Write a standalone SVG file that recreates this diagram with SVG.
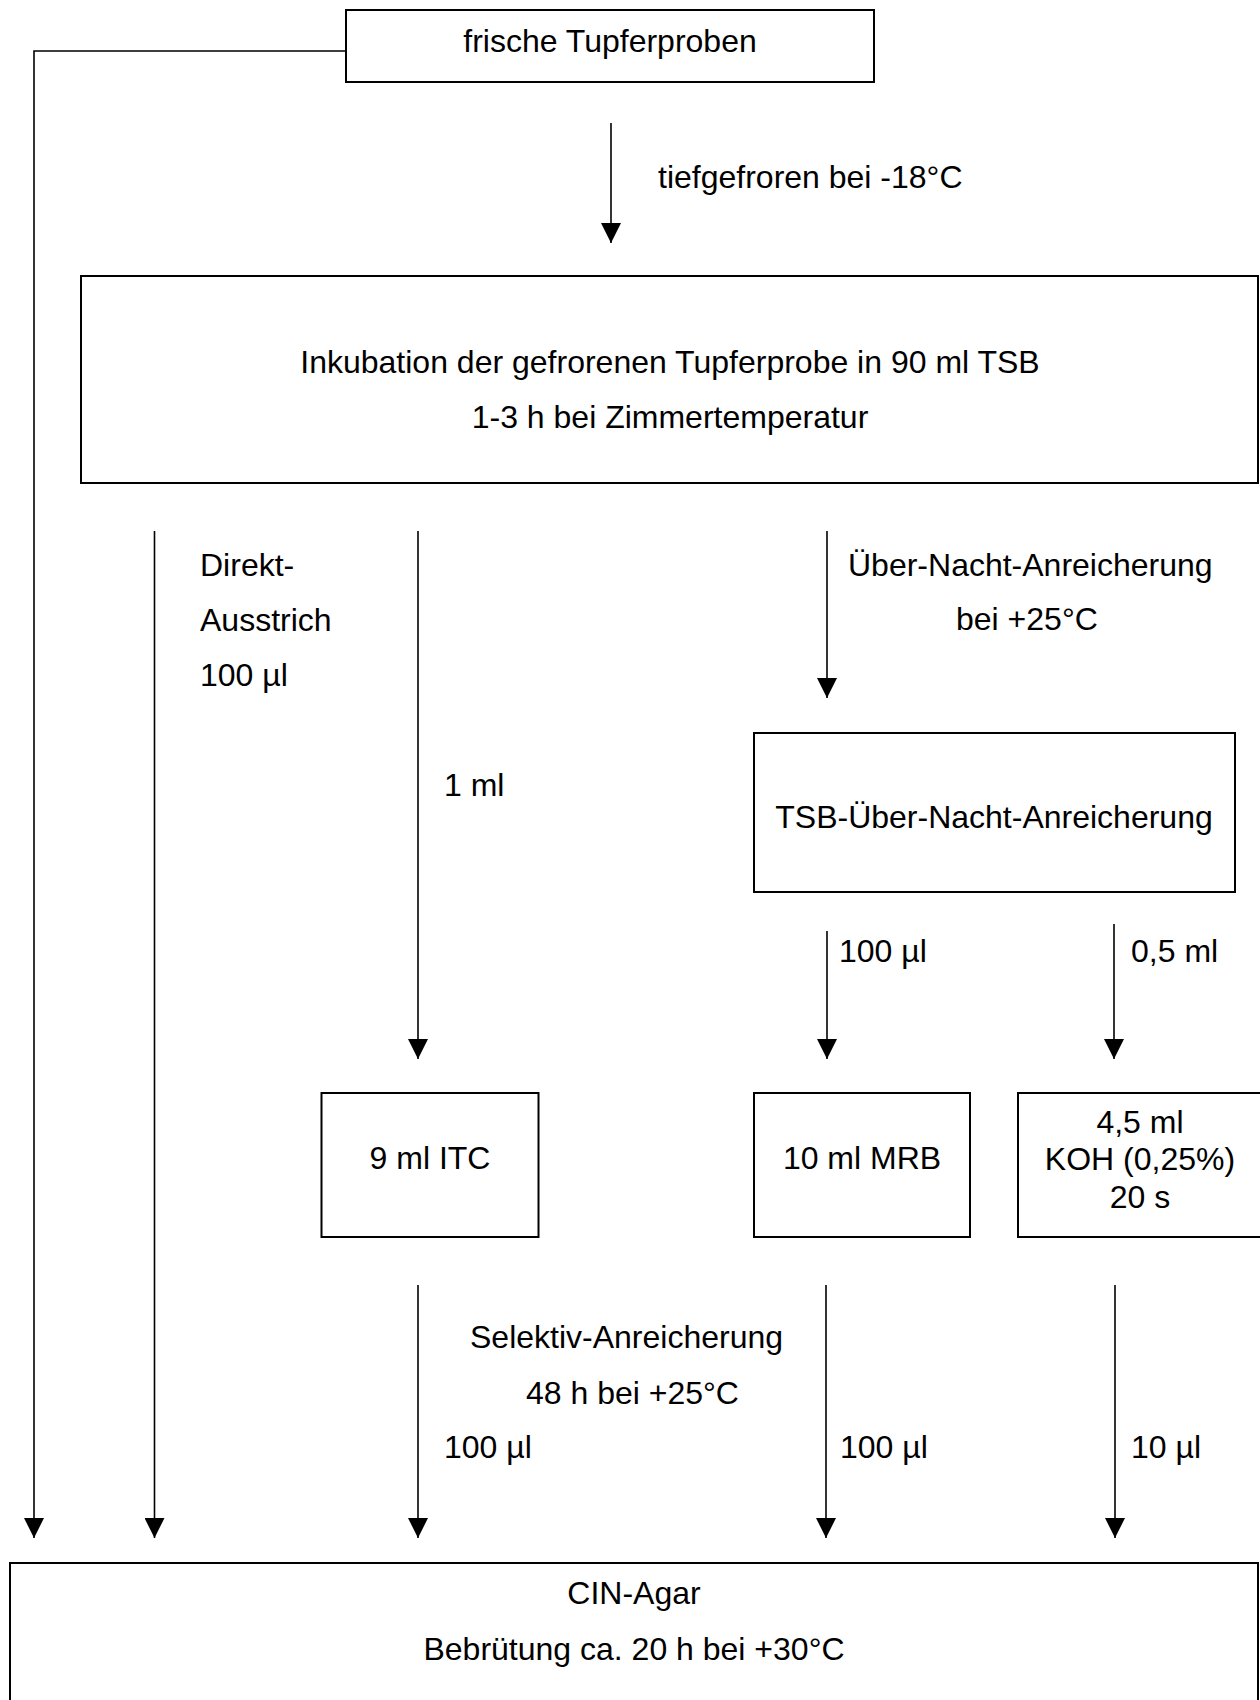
<svg xmlns="http://www.w3.org/2000/svg" width="1260" height="1700" viewBox="0 0 1260 1700">
<defs>
<style>
.box{fill:#fff;stroke:#000;stroke-width:2}
.ln{fill:none;stroke:#000;stroke-width:1.6}
.t{font-family:"Liberation Sans",Arial,sans-serif;font-size:32px;fill:#000}
.c{text-anchor:middle}
</style>
<marker id="ah" markerUnits="userSpaceOnUse" markerWidth="20" markerHeight="20" refX="20" refY="10" orient="auto" viewBox="0 0 20 20">
<path d="M0,0 L20,10 L0,20 Z" fill="#000"/>
</marker>
</defs>
<rect width="1260" height="1700" fill="#fff"/>
<g id="connectors">
<polyline class="ln" points="346,51 34,51 34,1538" marker-end="url(#ah)"/>
<line class="ln" x1="611" y1="123" x2="611" y2="243" marker-end="url(#ah)"/>
<line class="ln" x1="154.5" y1="531" x2="154.5" y2="1538" marker-end="url(#ah)"/>
<line class="ln" x1="418" y1="531" x2="418" y2="1059" marker-end="url(#ah)"/>
<line class="ln" x1="827" y1="531" x2="827" y2="698" marker-end="url(#ah)"/>
<line class="ln" x1="827" y1="931" x2="827" y2="1059" marker-end="url(#ah)"/>
<line class="ln" x1="1114" y1="924" x2="1114" y2="1059" marker-end="url(#ah)"/>
<line class="ln" x1="418" y1="1285" x2="418" y2="1538" marker-end="url(#ah)"/>
<line class="ln" x1="826" y1="1285" x2="826" y2="1538" marker-end="url(#ah)"/>
<line class="ln" x1="1115" y1="1285" x2="1115" y2="1538" marker-end="url(#ah)"/>
<text class="t" x="658" y="188">tiefgefroren bei -18°C</text>
<text class="t" x="200" y="576">Direkt-</text>
<text class="t" x="200" y="631">Ausstrich</text>
<text class="t" x="200" y="686">100 µl</text>
<text class="t" x="444" y="796">1 ml</text>
<text class="t" x="848" y="576">Über-Nacht-Anreicherung</text>
<text class="t" x="956" y="630">bei +25°C</text>
<text class="t" x="839" y="962">100 µl</text>
<text class="t" x="1131" y="962">0,5 ml</text>
<text class="t" x="470" y="1348">Selektiv-Anreicherung</text>
<text class="t" x="526" y="1404">48 h bei +25°C</text>
<text class="t" x="444" y="1458">100 µl</text>
<text class="t" x="840" y="1458">100 µl</text>
<text class="t" x="1131" y="1458">10 µl</text>
</g>
<g id="n-frisch">
<rect class="box" x="346" y="10" width="528" height="72"/>
<text class="t c" x="610" y="52">frische Tupferproben</text>
</g>
<g id="n-inkubation">
<rect class="box" x="81" y="276" width="1177" height="207"/>
<text class="t c" x="670" y="373">Inkubation der gefrorenen Tupferprobe in 90 ml TSB</text>
<text class="t c" x="670" y="428">1-3 h bei Zimmertemperatur</text>
</g>
<g id="n-tsb">
<rect class="box" x="754" y="733" width="481" height="159"/>
<text class="t c" x="994" y="828">TSB-Über-Nacht-Anreicherung</text>
</g>
<g id="n-itc">
<rect class="box" x="321.5" y="1093" width="217" height="144"/>
<text class="t c" x="430" y="1169">9 ml ITC</text>
</g>
<g id="n-mrb">
<rect class="box" x="754" y="1093" width="216" height="144"/>
<text class="t c" x="862" y="1169">10 ml MRB</text>
</g>
<g id="n-koh">
<rect class="box" x="1018" y="1093" width="250" height="144"/>
<text class="t c" x="1140" y="1133">4,5 ml</text>
<text class="t c" x="1140" y="1170">KOH (0,25%)</text>
<text class="t c" x="1140" y="1208">20 s</text>
</g>
<g id="n-cin">
<rect class="box" x="10" y="1563" width="1248" height="150"/>
<text class="t c" x="634" y="1604">CIN-Agar</text>
<text class="t c" x="634" y="1660">Bebrütung ca. 20 h bei +30°C</text>
</g>
</svg>
